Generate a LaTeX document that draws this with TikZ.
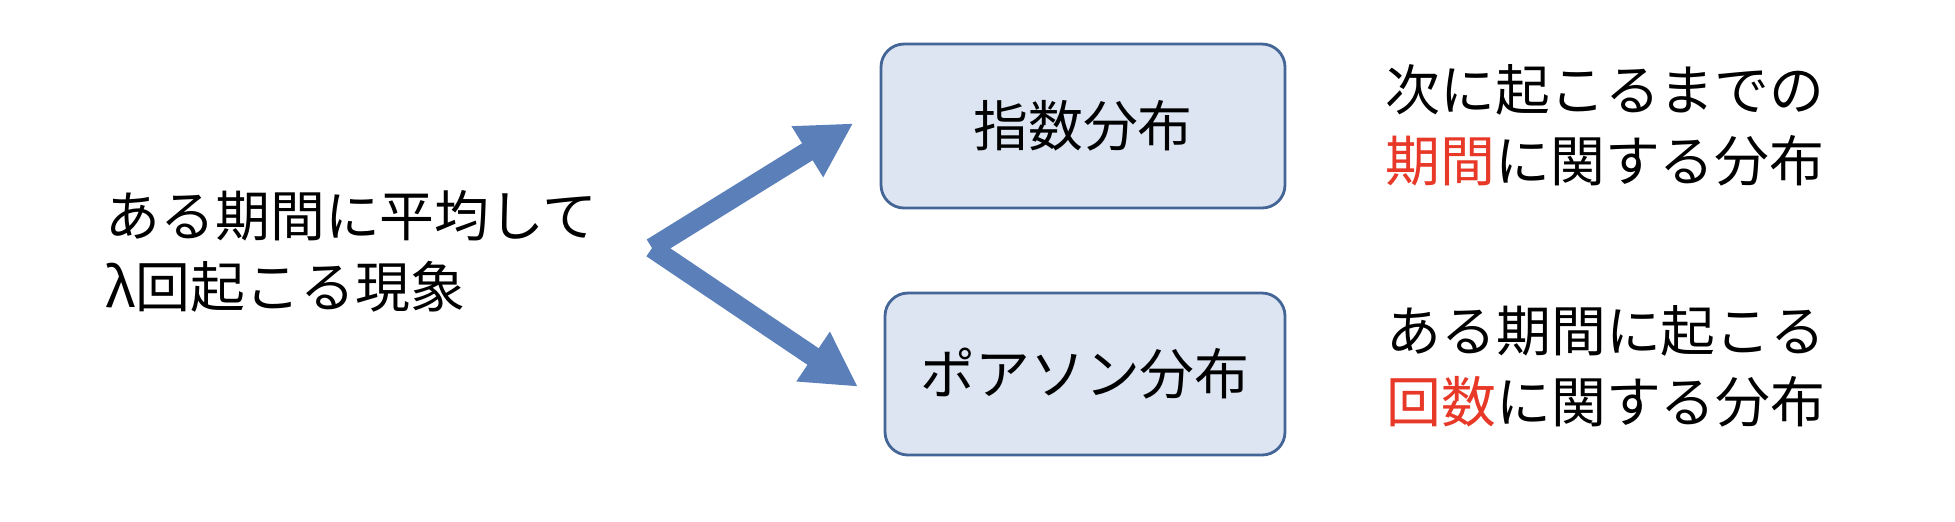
\documentclass[tikz,border=0pt]{standalone}
\usepackage{fontspec}
\setmainfont{Noto Sans CJK JP}
\usepackage{tikz}
\usetikzlibrary{arrows.meta}

\definecolor{arrowblue}{RGB}{91,128,185}
\definecolor{boxfill}{RGB}{220,229,241}
\definecolor{boxline}{RGB}{68,102,150}
\definecolor{notered}{RGB}{232,56,40}

\tikzset{
  jtext/.style={font=\fontsize{15.6pt}{20.3pt}\selectfont, inner sep=0pt, align=left},
  distbox/.style={draw=boxline, line width=0.8pt, fill=boxfill, rounded corners=2.3mm,
    font=\fontsize{15.6pt}{20.3pt}\selectfont, inner sep=0pt},
  forkarrow/.style={line width=2mm, arrowblue, -{Triangle[length=5.4mm,width=5.6mm]}, shorten >=3.1mm}
}

\begin{document}
\begin{tikzpicture}
\useasboundingbox (0,0) rectangle (19.55,-5.21);

\node[jtext, anchor=west] (src) at (1.05,-2.515) {ある期間に平均して\\λ回起こる現象};

\node[distbox, minimum width=4.04cm, minimum height=1.64cm] (expo) at (10.83,-1.26) {指数分布};
\node[distbox, minimum width=4.0cm, minimum height=1.62cm] (pois) at (10.85,-3.74) {ポアソン分布};

\node[jtext, anchor=west] (expoNote) at (13.85,-1.255) {次に起こるまでの\\{\color{notered}期間}に関する分布};
\node[jtext, anchor=west] (poisNote) at (13.86,-3.665) {ある期間に起こる\\{\color{notered}回数}に関する分布};

\coordinate (fork) at (6.52,-2.48);
\draw[forkarrow] (fork) -- ([yshift=1.9mm]expo.west);
\draw[forkarrow] (fork) -- ([yshift=-3mm]pois.west);
\end{tikzpicture}
\end{document}
